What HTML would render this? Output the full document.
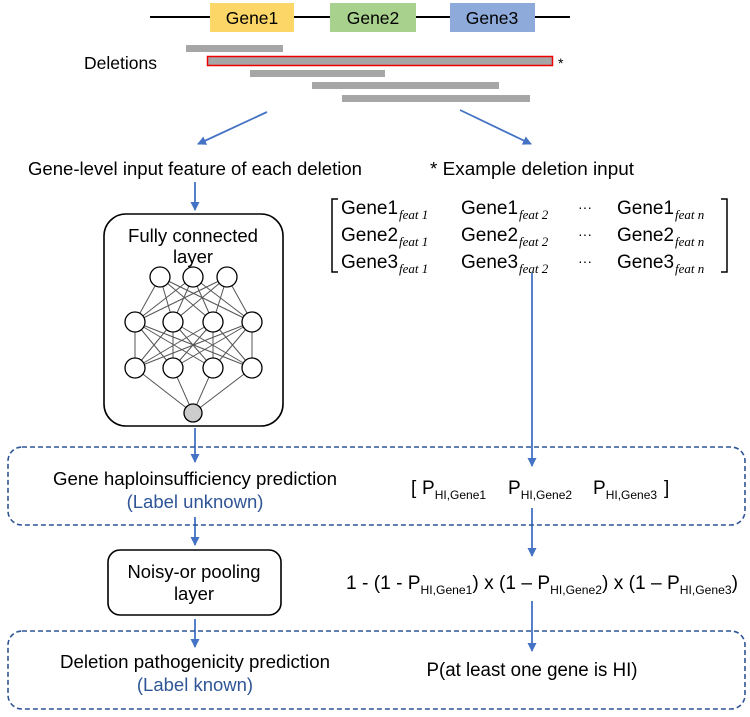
<!DOCTYPE html>
<html><head><meta charset="utf-8"><style>
body{margin:0;background:#fff}
svg{display:block;font-family:"Liberation Sans",Arial,sans-serif}
</style></head><body>
<svg width="750" height="717" viewBox="0 0 750 717" xmlns="http://www.w3.org/2000/svg">
<defs>
<marker id="ah" markerWidth="10" markerHeight="10" refX="8" refY="5" orient="auto" markerUnits="userSpaceOnUse">
<path d="M0,0.5 L9,5 L0,9.5 z" fill="#4472c4"/>
</marker>
</defs>
<line x1="150" y1="17" x2="570" y2="17" stroke="#000" stroke-width="2"/>
<rect x="210" y="3" width="84" height="29" fill="#fcd667"/>
<rect x="330" y="3" width="86" height="29" fill="#a9d18e"/>
<rect x="450" y="3" width="85" height="29" fill="#8eaadb"/>
<text x="252" y="24" font-size="17.5" text-anchor="middle">Gene1</text>
<text x="373" y="24" font-size="17.5" text-anchor="middle">Gene2</text>
<text x="492" y="24" font-size="17.5" text-anchor="middle">Gene3</text>
<text x="84" y="69" font-size="17.5">Deletions</text>
<rect x="186" y="45" width="97" height="7" fill="#a6a6a6"/>
<rect x="207.5" y="56.5" width="345" height="9" fill="#a6a6a6" stroke="#e00" stroke-width="1.5"/>
<text x="558" y="68" font-size="14">*</text>
<rect x="250" y="70" width="135" height="7" fill="#a6a6a6"/>
<rect x="312" y="82" width="187" height="7" fill="#a6a6a6"/>
<rect x="342" y="95" width="188" height="7" fill="#a6a6a6"/>
<g stroke="#4472c4" stroke-width="1.8" fill="none" marker-end="url(#ah)">
<line x1="267" y1="112" x2="198" y2="144"/>
<line x1="460" y1="110" x2="531" y2="144"/>
<line x1="195" y1="182" x2="195" y2="210"/>
<line x1="532" y1="273" x2="532" y2="466"/>
<line x1="195" y1="428" x2="195" y2="462"/>
<line x1="532" y1="508" x2="532" y2="556"/>
<line x1="195" y1="517" x2="195" y2="545"/>
<line x1="195" y1="619" x2="195" y2="647"/>
<line x1="532" y1="601" x2="532" y2="651"/>
</g>
<text x="195" y="175" font-size="18.5" text-anchor="middle" textLength="334" lengthAdjust="spacingAndGlyphs">Gene-level input feature of each deletion</text>
<text x="532" y="175" font-size="18.5" text-anchor="middle" textLength="204" lengthAdjust="spacingAndGlyphs">* Example deletion input</text>
<rect x="104" y="214" width="179" height="212" rx="22" fill="#fff" stroke="#000" stroke-width="1.6"/>
<text x="193" y="242" font-size="18.5" text-anchor="middle" textLength="130" lengthAdjust="spacingAndGlyphs">Fully connected</text>
<text x="193" y="263" font-size="18.5" text-anchor="middle">layer</text>
<g stroke="#555" stroke-width="1">
<path d="M160,277L135,322M160,277L173,322M160,277L213,322M160,277L252,322M193,277L135,322M193,277L173,322M193,277L213,322M193,277L252,322M227,277L135,322M227,277L173,322M227,277L213,322M227,277L252,322"/>
<path d="M135,322L135,368M135,322L173,368M135,322L213,368M135,322L252,368M173,322L135,368M173,322L173,368M173,322L213,368M173,322L252,368M213,322L135,368M213,322L173,368M213,322L213,368M213,322L252,368M252,322L135,368M252,322L173,368M252,322L213,368M252,322L252,368"/>
<path d="M135,368L193,413M173,368L193,413M213,368L193,413M252,368L193,413"/>
</g>
<g fill="#fff" stroke="#000" stroke-width="1.3">
<circle cx="160" cy="277" r="10"/><circle cx="193" cy="277" r="10"/><circle cx="227" cy="277" r="10"/>
<circle cx="135" cy="322" r="10"/><circle cx="173" cy="322" r="10"/><circle cx="213" cy="322" r="10"/><circle cx="252" cy="322" r="10"/>
<circle cx="135" cy="368" r="10"/><circle cx="173" cy="368" r="10"/><circle cx="213" cy="368" r="10"/><circle cx="252" cy="368" r="10"/>
<circle cx="193" cy="413" r="9" fill="#ccc"/>
</g>
<path d="M338,199 L332,199 L332,272 L338,272" fill="none" stroke="#000" stroke-width="1.5"/>
<path d="M721,199 L727,199 L727,272 L721,272" fill="none" stroke="#000" stroke-width="1.5"/>
<g font-size="19">
<text x="341" y="214">Gene1</text><text x="461" y="214">Gene1</text><text x="617" y="214">Gene1</text>
<text x="341" y="241">Gene2</text><text x="461" y="241">Gene2</text><text x="617" y="241">Gene2</text>
<text x="341" y="268">Gene3</text><text x="461" y="268">Gene3</text><text x="617" y="268">Gene3</text>
</g>
<g font-size="13" font-style="italic" font-family="'Liberation Serif',serif">
<text x="399" y="219">feat 1</text><text x="519" y="219">feat 2</text><text x="675" y="219">feat n</text>
<text x="399" y="246">feat 1</text><text x="519" y="246">feat 2</text><text x="675" y="246">feat n</text>
<text x="399" y="273">feat 1</text><text x="519" y="273">feat 2</text><text x="675" y="273">feat n</text>
</g>
<g font-size="14"><text x="578" y="212">···</text><text x="578" y="239">···</text><text x="578" y="266">···</text></g>
<rect x="8" y="447" width="737" height="78" rx="14" fill="none" stroke="#2f5597" stroke-width="1.6" stroke-dasharray="5,3"/>
<rect x="8" y="631" width="737" height="78" rx="14" fill="none" stroke="#2f5597" stroke-width="1.6" stroke-dasharray="5,3"/>
<text x="195" y="485" font-size="18.5" text-anchor="middle" textLength="284" lengthAdjust="spacingAndGlyphs">Gene haploinsufficiency prediction</text>
<text x="195" y="508" font-size="18.5" text-anchor="middle" fill="#2f5597">(Label unknown)</text>
<g font-size="19">
<text x="411" y="494">[</text><text x="422" y="494">P<tspan font-size="12" dy="5">HI,Gene1</tspan></text>
<text x="508" y="494">P<tspan font-size="12" dy="5">HI,Gene2</tspan></text>
<text x="593" y="494">P<tspan font-size="12" dy="5">HI,Gene3</tspan></text>
<text x="664" y="494">]</text>
</g>
<rect x="108" y="550" width="173" height="65" rx="12" fill="#fff" stroke="#000" stroke-width="1.6"/>
<text x="194" y="578" font-size="18.5" text-anchor="middle" textLength="133" lengthAdjust="spacingAndGlyphs">Noisy-or pooling</text>
<text x="194" y="600" font-size="18.5" text-anchor="middle">layer</text>
<text x="346" y="589" font-size="19" textLength="392" lengthAdjust="spacingAndGlyphs">1 - (1 - P<tspan font-size="12" dy="5">HI,Gene1</tspan><tspan dy="-5">) x (1 – P</tspan><tspan font-size="12" dy="5">HI,Gene2</tspan><tspan dy="-5">) x (1 – P</tspan><tspan font-size="12" dy="5">HI,Gene3</tspan><tspan dy="-5">)</tspan></text>
<text x="195" y="668" font-size="18.5" text-anchor="middle" textLength="270" lengthAdjust="spacingAndGlyphs">Deletion pathogenicity prediction</text>
<text x="195" y="691" font-size="18.5" text-anchor="middle" fill="#2f5597">(Label known)</text>
<text x="532" y="676" font-size="19" text-anchor="middle" textLength="211" lengthAdjust="spacingAndGlyphs">P(at least one gene is HI)</text>
</svg>
</body></html>
